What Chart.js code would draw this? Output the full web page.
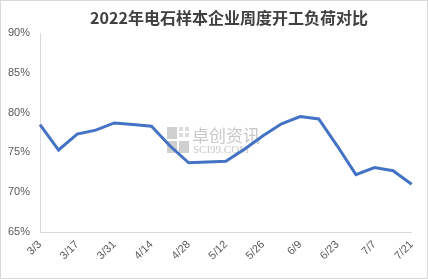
<!DOCTYPE html>
<html>
<head>
<meta charset="utf-8">
<script src="https://cdn.jsdelivr.net/npm/chart.js@4/dist/chart.umd.min.js"></script>
<style>
html,body{margin:0;padding:0;background:#fff;}
#wrap{position:relative;width:428px;height:279px;box-sizing:border-box;border:1px solid #d9d9d9;}
canvas{display:block;}
</style>
</head>
<body>
<div id="wrap"><canvas id="c" width="426" height="277"></canvas></div>
<script>
const titleText = '2022年电石样本企业周度开工负荷对比';
const categories = ['3/3','3/10','3/17','3/24','3/31','4/7','4/14','4/21','4/28','5/5','5/12','5/19','5/26','6/2','6/9','6/16','6/23','6/30','7/7','7/14','7/21'];
const loadRate = [78.5,75.3,77.3,77.8,78.7,78.5,78.3,75.8,73.7,73.8,73.9,75.4,77.1,78.6,79.5,79.2,75.8,72.2,73.1,72.7,71.0];
const yTicks = [65,70,75,80,85,90];

const gray = '#595959';

const overlay = {
  id: 'overlay',
  beforeDraw(chart) {
    const ctx = chart.ctx;
    ctx.save();
    // watermark
    ctx.fillStyle = '#cfcfcf';
    ctx.fillRect(166, 126, 10, 12);
    ctx.fillRect(166, 140, 10, 12);
    ctx.fillRect(178, 140, 10, 12);
    ctx.fillStyle = '#dcdcdc';
    ctx.fillRect(178, 126, 4, 4);
    ctx.fillRect(184, 126, 4, 4);
    ctx.fillRect(178, 132, 4, 4);
    ctx.fillRect(184, 132, 4, 4);
    ctx.fillStyle = '#c8c8c8';
    ctx.font = '17px "Noto Sans CJK SC"';
    ctx.textBaseline = 'alphabetic';
    ctx.textAlign = 'left';
    ctx.fillText('卓创资讯', 191, 141);
    ctx.font = '11px "Liberation Serif"';
    ctx.fillText('SCI99.COM', 192, 152);
    ctx.restore();
  },
  afterDraw(chart) {
    const ctx = chart.ctx;
    ctx.save();
    ctx.fillStyle = '#404040';
    ctx.font = 'bold 16px "Noto Sans CJK SC"';
    ctx.textAlign = 'center';
    ctx.textBaseline = 'middle';
    ctx.fillText(titleText, 228, 17);
    ctx.restore();
  }
};

new Chart(document.getElementById('c'), {
  type: 'line',
  data: {
    labels: categories,
    datasets: [{
      data: loadRate,
      borderColor: '#4472C4',
      borderWidth: 3,
      pointRadius: 0,
      tension: 0,
      fill: false
    }]
  },
  options: {
    responsive: false,
    animation: false,
    layout: { padding: { top: 32, right: 14, left: 0, bottom: 0 } },
    plugins: { legend: { display: false }, tooltip: { enabled: false }, title: { display: false } },
    scales: {
      x: {
        offset: false,
        grid: { display: false, drawTicks: false },
        border: { color: '#d9d9d9', width: 1 },
        ticks: {
          autoSkip: false,
          maxRotation: 45,
          minRotation: 45,
          color: gray,
          padding: 6,
          font: { family: 'Liberation Sans', size: 11 },
          callback: function(v, i) { return i % 2 === 0 ? categories[i] : ''; }
        },
        afterFit(s) { s.height = 46; }
      },
      y: {
        min: 65,
        max: 90,
        grid: { display: false, drawTicks: false },
        border: { color: '#d9d9d9', width: 1 },
        afterBuildTicks(s) { s.ticks = yTicks.map(v => ({ value: v })); },
        ticks: {
          color: gray,
          padding: 10,
          font: { family: 'Liberation Sans', size: 11 },
          callback: v => v + '%'
        },
        afterFit(s) { s.width = 39; }
      }
    }
  },
  plugins: [overlay]
});
</script>
</body>
</html>
